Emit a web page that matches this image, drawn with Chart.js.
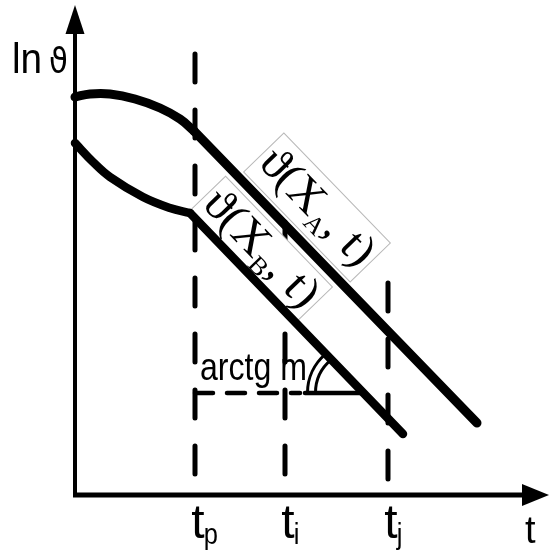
<!DOCTYPE html>
<html>
<head>
<meta charset="utf-8">
<script src="https://cdn.jsdelivr.net/npm/chart.js@4.4.1/dist/chart.umd.min.js"></script>
<style>
  html, body { margin: 0; padding: 0; background: #fff; }
  #contenedor { width: 549px; height: 557px; position: relative; }
</style>
</head>
<body>
<div id="contenedor"><canvas id="grafico"></canvas></div>
<script>
// marcas del eje t (t_p, t_i, t_j)
const marcasT = [12.0, 21.0, 31.3];
const marcasSub = ['p', 'i', 'j'];
// guías verticales discontinuas: desde / hasta (ln ϑ)
const guiasDesde = [44.1, 27.3, 21.2];
const guiasHasta = [1.7, 1.7, 1.4];

// ϑ(X_A, t): tramo curvo inicial y tramo recto
const curvaA_t = [0, 1.5, 3.5, 6.0, 8.5, 10.5, 11.9];
const curvaA_ln = [39.8, 40.1, 40.1, 39.6, 38.7, 37.6, 36.4];
const rectaA_t = [11.9, 40.2];
const rectaA_ln = [36.4, 7.2];

// ϑ(X_B, t)
const curvaB_t = [0, 1.8, 3.5, 6.8, 9.5, 11.5];
const curvaB_ln = [35.2, 33.3, 31.8, 29.8, 28.7, 28.2];
const rectaB_t = [11.5, 32.8];
const rectaB_ln = [28.2, 6.1];

// horizontal del ángulo arctg m
const nivelM = 10.2;
const horizDiscontinua_t = [12.0, 22.5];
const horizContinua_desde = 23.0;

// centro de los rótulos de cada recta
const rotuloA = { t: 24.2, ln: 28.75, sub: 'A' };
const rotuloB = { t: 18.6, ln: 24.6, sub: 'B' };

const sans = '"Liberation Sans", Arial, sans-serif';
const serif = '"Liberation Serif", "Times New Roman", "DejaVu Serif", serif';

function serie(ts, lns) {
  return ts.map((t, i) => ({ x: t, y: lns[i] }));
}

// corte de la recta B con la horizontal
const corteB_t = rectaB_t[0] + (rectaB_ln[0] - nivelM) / (rectaB_ln[0] - rectaB_ln[1]) * (rectaB_t[1] - rectaB_t[0]);

function px(chart, t, ln) {
  return { x: chart.scales.x.getPixelForValue(t), y: chart.scales.y.getPixelForValue(ln) };
}

function dibujarRotulo(chart, rot, rt, rln, ancho, alto) {
  const ctx = chart.ctx;
  const c = px(chart, rot.t, rot.ln);
  const p1 = px(chart, rt[0], rln[0]);
  const p2 = px(chart, rt[1], rln[1]);
  const ang = Math.atan2(p2.y - p1.y, p2.x - p1.x);
  ctx.save();
  ctx.translate(c.x, c.y);
  ctx.rotate(ang);
  ctx.fillStyle = '#fff';
  ctx.fillRect(-ancho / 2, -alto / 2, ancho, alto);
  ctx.strokeStyle = '#b8b8b8';
  ctx.lineWidth = 1;
  ctx.strokeRect(-ancho / 2, -alto / 2, ancho, alto);

  const fPrin = '46px ' + serif;
  const fSub = '25px ' + serif;
  const partes = [['ϑ(X', fPrin, 13], [rot.sub, fSub, 22], [', t)', fPrin, 13]];
  let total = 0;
  partes.forEach(p => { ctx.font = p[1]; total += ctx.measureText(p[0]).width; });
  const objetivo = ancho - 8;
  const esc = objetivo / total;
  ctx.scale(esc, 1);
  let x = (-ancho / 2 + 4) / esc;
  ctx.fillStyle = '#000';
  ctx.textBaseline = 'alphabetic';
  partes.forEach(p => {
    ctx.font = p[1];
    ctx.fillText(p[0], x, p[2]);
    x += ctx.measureText(p[0]).width;
  });
  ctx.restore();
}

const ejesPlugin = {
  id: 'ejes',
  beforeDatasetsDraw(chart) {
    chart.$rotulosListos = false;
    const ctx = chart.ctx;
    const o = px(chart, 0, 0);
    const w = chart.width;
    ctx.save();
    ctx.fillStyle = '#000';
    ctx.strokeStyle = '#000';
    // eje ln ϑ
    ctx.lineWidth = 4;
    ctx.beginPath(); ctx.moveTo(o.x, o.y + 2); ctx.lineTo(o.x, 30); ctx.stroke();
    ctx.beginPath(); ctx.moveTo(o.x, 5); ctx.lineTo(o.x - 9.5, 34); ctx.lineTo(o.x + 9.5, 34); ctx.closePath(); ctx.fill();
    // eje t
    ctx.lineWidth = 5;
    ctx.beginPath(); ctx.moveTo(o.x - 2, o.y); ctx.lineTo(w - 25, o.y); ctx.stroke();
    ctx.beginPath(); ctx.moveTo(w, o.y); ctx.lineTo(w - 27, o.y - 11); ctx.lineTo(w - 27, o.y + 11); ctx.closePath(); ctx.fill();
    ctx.restore();
  },
  beforeDatasetDraw(chart, args) {
    // los rótulos van encima de las guías y debajo de las curvas
    if (!chart.$rotulosListos && chart.data.datasets[args.index].order === 0) {
      dibujarRotulo(chart, rotuloA, rectaA_t, rectaA_ln, 153, 56);
      dibujarRotulo(chart, rotuloB, rectaB_t, rectaB_ln, 154, 50);
      chart.$rotulosListos = true;
    }
  },
  afterDatasetsDraw(chart) {
    const ctx = chart.ctx;
    const o = px(chart, 0, 0);
    ctx.save();
    ctx.fillStyle = '#000';
    ctx.textBaseline = 'alphabetic';

    // ln ϑ
    ctx.save();
    ctx.translate(12, 73);
    ctx.scale(0.9, 1);
    ctx.font = '43px ' + sans;
    ctx.fillText('ln', 0, 0);
    ctx.restore();
    ctx.font = '36px "DejaVu Sans", ' + sans;
    ctx.save();
    ctx.translate(49, 73);
    ctx.scale(0.85, 1);
    ctx.fillText('ϑ', 0, 0);
    ctx.restore();

    // t del eje
    ctx.font = '38px ' + sans;
    ctx.fillText('t', chart.width - 24, o.y + 48);

    // marcas t_p, t_i, t_j
    marcasT.forEach((v, i) => {
      const x = chart.scales.x.getPixelForValue(v) + 3;
      ctx.font = '48px ' + sans;
      const wt = ctx.measureText('t').width;
      ctx.textAlign = 'center';
      ctx.fillText('t', x, o.y + 43);
      ctx.textAlign = 'left';
      ctx.save();
      ctx.translate(x + wt / 2 - 1, o.y + 49);
      ctx.scale(0.85, 1);
      ctx.font = '30px ' + sans;
      ctx.fillText(marcasSub[i], 0, 0);
      ctx.restore();
    });

    // arctg m
    const pm = px(chart, 12.5, 11.5);
    ctx.font = '39px ' + sans;
    const wm = ctx.measureText('arctg m').width;
    ctx.save();
    ctx.translate(pm.x, pm.y);
    ctx.scale(107 / wm, 1);
    ctx.fillText('arctg m', 0, 0);
    ctx.restore();

    // doble arco del ángulo
    const pc = px(chart, corteB_t, nivelM);
    const pb = px(chart, rectaB_t[0], rectaB_ln[0]);
    const dx = pb.x - pc.x, dy = pb.y - pc.y;
    const L = Math.hypot(dx, dy);
    const ux = dx / L, uy = dy / L;
    const cx = pc.x - 5, cy = pc.y;
    ctx.strokeStyle = '#000';
    ctx.lineWidth = 3;
    [51, 43].forEach(r => {
      // punto de la recta a distancia r del centro del arco
      const ox = pc.x - cx, oy = pc.y - cy;
      const b = ox * ux + oy * uy;
      const s = -b + Math.sqrt(b * b - (ox * ox + oy * oy - r * r));
      const qx = pc.x + s * ux, qy = pc.y + s * uy;
      let fin = Math.atan2(qy - cy, qx - cx);
      if (fin < 0) fin += Math.PI * 2;
      ctx.beginPath();
      ctx.arc(cx, cy, r, Math.PI, fin, false);
      ctx.stroke();
    });
    ctx.restore();
  }
};

const base = {
  borderColor: '#000',
  pointRadius: 0,
  showLine: true,
  fill: false,
  borderCapStyle: 'round',
  borderJoinStyle: 'round',
  clip: false
};

const datasets = [
  { ...base, data: serie(curvaA_t, curvaA_ln), borderWidth: 9, tension: 0.4, order: 0 },
  { ...base, data: serie(rectaA_t, rectaA_ln), borderWidth: 9, order: 0 },
  { ...base, data: serie(curvaB_t, curvaB_ln), borderWidth: 8.5, tension: 0.4, order: 0 },
  { ...base, data: serie(rectaB_t, rectaB_ln), borderWidth: 8.5, order: 0 }
];

marcasT.forEach((v, i) => {
  datasets.push({ ...base, data: serie([v, v], [guiasDesde[i], guiasHasta[i]]), borderWidth: 5, borderDash: [28, 28], order: 1 });
});
datasets.push({ ...base, data: serie(horizDiscontinua_t, [nivelM, nivelM]), borderWidth: 4.5, borderDash: [18, 14], order: 1 });
datasets.push({ ...base, data: serie([horizContinua_desde, corteB_t], [nivelM, nivelM]), borderWidth: 4.5, order: 1 });

new Chart(document.getElementById('grafico'), {
  type: 'scatter',
  data: { datasets: datasets },
  options: {
    responsive: true,
    maintainAspectRatio: false,
    animation: false,
    events: [],
    layout: { padding: 0 },
    plugins: { legend: { display: false }, tooltip: { enabled: false } },
    scales: {
      x: { type: 'linear', min: -7.5, max: 47.4, display: false },
      y: { type: 'linear', min: -6.2, max: 49.5, display: false }
    }
  },
  plugins: [ejesPlugin]
});
</script>
</body>
</html>
